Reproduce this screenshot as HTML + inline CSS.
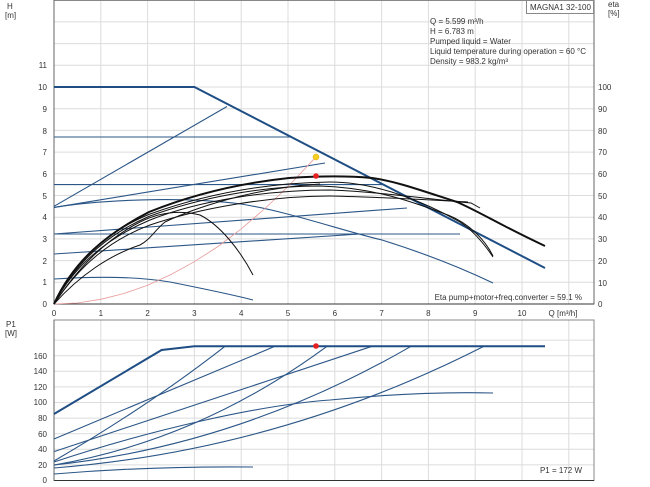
<!DOCTYPE html>
<html><head><meta charset="utf-8"><style>
html,body{margin:0;padding:0;background:#fff;}
svg{display:block;font-family:"Liberation Sans",sans-serif;}
</style></head><body>
<svg width="650" height="487" viewBox="0 0 650 487" xmlns="http://www.w3.org/2000/svg">
<rect width="650" height="487" fill="#fff"/>
<g stroke="#dcdcdc" stroke-width="1">
<line x1="100.8" y1="0" x2="100.8" y2="304"/><line x1="147.6" y1="0" x2="147.6" y2="304"/><line x1="194.4" y1="0" x2="194.4" y2="304"/><line x1="241.2" y1="0" x2="241.2" y2="304"/><line x1="288" y1="0" x2="288" y2="304"/><line x1="334.8" y1="0" x2="334.8" y2="304"/><line x1="381.6" y1="0" x2="381.6" y2="304"/><line x1="428.4" y1="0" x2="428.4" y2="304"/><line x1="475.2" y1="0" x2="475.2" y2="304"/><line x1="522" y1="0" x2="522" y2="304"/><line x1="568.8" y1="0" x2="568.8" y2="304"/>
<line x1="54" y1="282.3" x2="594" y2="282.3"/><line x1="54" y1="260.6" x2="594" y2="260.6"/><line x1="54" y1="238.9" x2="594" y2="238.9"/><line x1="54" y1="217.2" x2="594" y2="217.2"/><line x1="54" y1="195.5" x2="594" y2="195.5"/><line x1="54" y1="173.8" x2="594" y2="173.8"/><line x1="54" y1="152.1" x2="594" y2="152.1"/><line x1="54" y1="130.4" x2="594" y2="130.4"/><line x1="54" y1="108.7" x2="594" y2="108.7"/><line x1="54" y1="87" x2="594" y2="87"/><line x1="54" y1="65.3" x2="594" y2="65.3"/><line x1="54" y1="43.6" x2="594" y2="43.6"/><line x1="54" y1="21.9" x2="594" y2="21.9"/>
<line x1="100.8" y1="320" x2="100.8" y2="480.5"/><line x1="147.6" y1="320" x2="147.6" y2="480.5"/><line x1="194.4" y1="320" x2="194.4" y2="480.5"/><line x1="241.2" y1="320" x2="241.2" y2="480.5"/><line x1="288" y1="320" x2="288" y2="480.5"/><line x1="334.8" y1="320" x2="334.8" y2="480.5"/><line x1="381.6" y1="320" x2="381.6" y2="480.5"/><line x1="428.4" y1="320" x2="428.4" y2="480.5"/><line x1="475.2" y1="320" x2="475.2" y2="480.5"/><line x1="522" y1="320" x2="522" y2="480.5"/><line x1="568.8" y1="320" x2="568.8" y2="480.5"/>
<line x1="54" y1="464.9" x2="594" y2="464.9"/><line x1="54" y1="449.3" x2="594" y2="449.3"/><line x1="54" y1="433.7" x2="594" y2="433.7"/><line x1="54" y1="418.1" x2="594" y2="418.1"/><line x1="54" y1="402.5" x2="594" y2="402.5"/><line x1="54" y1="386.9" x2="594" y2="386.9"/><line x1="54" y1="371.3" x2="594" y2="371.3"/><line x1="54" y1="355.7" x2="594" y2="355.7"/><line x1="54" y1="340.1" x2="594" y2="340.1"/>
</g>
<g fill="none" stroke="#888" stroke-width="1">
<rect x="54" y="0.5" width="540" height="303.5"/>
<rect x="54" y="320" width="540" height="160.5"/>
</g>
<line x1="54" y1="304" x2="594" y2="304" stroke="#333"/>
<line x1="54" y1="480.5" x2="594" y2="480.5" stroke="#333"/>
<line x1="54" y1="0" x2="54" y2="304" stroke="#666"/>
<line x1="54" y1="320" x2="54" y2="480.5" stroke="#666"/>
<line x1="594" y1="0" x2="594" y2="304" stroke="#666"/>
<g fill="none" stroke="#2b5687" stroke-width="1.1">
<line x1="54" y1="206.3" x2="227" y2="106.5"/>
<line x1="54" y1="137" x2="291" y2="137"/>
<line x1="54" y1="207.4" x2="325" y2="163"/>
<line x1="54" y1="184.6" x2="383.5" y2="184.6"/>
<path d="M54,207.4 C100,200 180,196 241,204 C290,212 340,230 382,240 C430,255 470,272 493,283"/>
<line x1="54" y1="234" x2="407" y2="208"/>
<line x1="54" y1="234" x2="460" y2="234"/>
<path d="M54,254 L360,234"/>
<path d="M54,279 C100,276 140,277 170,282 C200,288 230,294 253,300"/>
</g>
<path d="M54,87 L194.4,87 L545,268" fill="none" stroke="#1f4e85" stroke-width="2"/>
<polyline points="54,304 77,303 100.8,299.3 124,293.5 147.6,285.2 171,274.5 194.4,261.7 218,246.5 241.2,228.9 265,208.5 288,186.6 316.1,156.8" fill="none" stroke="#e89a9a" stroke-width="0.8"/>
<g fill="none" stroke="#111" stroke-width="1">
<path d="M54,304 C75,260 110,230 150,214 C200,196 260,183 330,182 C380,182 430,205 460,222 C475,232 487,248 493,257"/>
<path d="M54,304 C76,262 112,236 150,220 C200,200 270,190 330,190 C380,192 420,198 471,203 L480,208"/>
<path d="M54,304 C80,265 110,240 150,225 C200,208 270,196 330,196 C380,197 430,200 468,202"/>
<path d="M54,304 C78,268 105,240 140,222 C160,212 180,210 200,215 C220,225 240,250 253,275"/>
<path d="M54,304 C80,275 110,255 140,245 C150,240 155,230 165,222 C190,210 250,188 320,184"/>
<path d="M54,304 C78,258 112,232 150,216 C200,198 260,186 320,186 C380,188 420,205 448,215 C470,224 485,240 493,256"/>
</g>
<path d="M54,304 C74,260 108,233 149,212 C196,193 242,183 289,178 C320,176 350,176 372,178 C395,181 420,190 457,202 C480,212 500,225 545,246" fill="none" stroke="#111" stroke-width="2"/>
<circle cx="316" cy="157" r="3" fill="#f5d020" stroke="#d9a800" stroke-width="0.5"/>
<circle cx="316" cy="176" r="2.8" fill="#e62020"/>
<g fill="none" stroke="#2b5687" stroke-width="1.1">
<line x1="54" y1="439" x2="275" y2="346.3"/>
<path d="M54,461 Q150,405 225,346.3"/>
<line x1="54" y1="451.6" x2="372" y2="346.3"/>
<path d="M54,465 Q200,440 327,346.3"/>
<path d="M54,465 Q240,445 411,346.3"/>
<path d="M54,468 Q280,450 484,346.3"/>
<path d="M54,462 C150,430 260,405 330,400 C400,393 450,392 493,393"/>
<path d="M54,474 Q150,466 253,467"/>
</g>
<path d="M54,414 L161.6,350 L194.4,346.3 L545,346.3" fill="none" stroke="#1f4e85" stroke-width="2"/>
<circle cx="316" cy="346" r="2.8" fill="#e62020"/>
<g font-size="8" fill="#333">
<text x="7" y="9">H</text><text x="5" y="18">[m]</text>
<g text-anchor="end">
<text x="47" y="307">0</text><text x="47" y="285">1</text><text x="47" y="264">2</text><text x="47" y="242">3</text><text x="47" y="220">4</text><text x="47" y="199">5</text><text x="47" y="177">6</text><text x="47" y="155">7</text><text x="47" y="134">8</text><text x="47" y="112">9</text><text x="47" y="90">10</text><text x="47" y="68">11</text>
<text x="47" y="483">0</text><text x="47" y="468">20</text><text x="47" y="452">40</text><text x="47" y="437">60</text><text x="47" y="421">80</text><text x="47" y="405">100</text><text x="47" y="390">120</text><text x="47" y="374">140</text><text x="47" y="359">160</text>
</g>
<text x="598" y="307">0</text><text x="598" y="286">10</text><text x="598" y="264">20</text><text x="598" y="242">30</text><text x="598" y="220">40</text><text x="598" y="199">50</text><text x="598" y="177">60</text><text x="598" y="155">70</text><text x="598" y="134">80</text><text x="598" y="112">90</text><text x="598" y="90">100</text>
<text x="608" y="7">eta</text><text x="608" y="16">[%]</text>
<g text-anchor="middle">
<text x="54" y="316">0</text><text x="100.8" y="316">1</text><text x="147.6" y="316">2</text><text x="194.4" y="316">3</text><text x="241.2" y="316">4</text><text x="288" y="316">5</text><text x="334.8" y="316">6</text><text x="381.6" y="316">7</text><text x="428.4" y="316">8</text><text x="475.2" y="316">9</text><text x="522" y="316">10</text>
</g>
<text x="563" y="316" text-anchor="middle">Q [m³/h]</text>
<text x="6" y="327">P1</text><text x="5" y="336">[W]</text>
<text x="582" y="473" text-anchor="end">P1 = 172 W</text>
<text x="582" y="300" text-anchor="end">Eta pump+motor+freq.converter = 59.1 %</text>
<text x="430" y="24">Q = 5.599 m³/h</text>
<text x="430" y="34">H = 6.783 m</text>
<text x="430" y="44">Pumped liquid = Water</text>
<text x="430" y="54">Liquid temperature during operation = 60 °C</text>
<text x="430" y="64">Density = 983.2 kg/m³</text>
</g>
<rect x="526.5" y="0.5" width="67" height="13" fill="#fff" stroke="#888"/>
<text x="530" y="10" font-size="8" fill="#333">MAGNA1 32-100</text>
</svg>
</body></html>
